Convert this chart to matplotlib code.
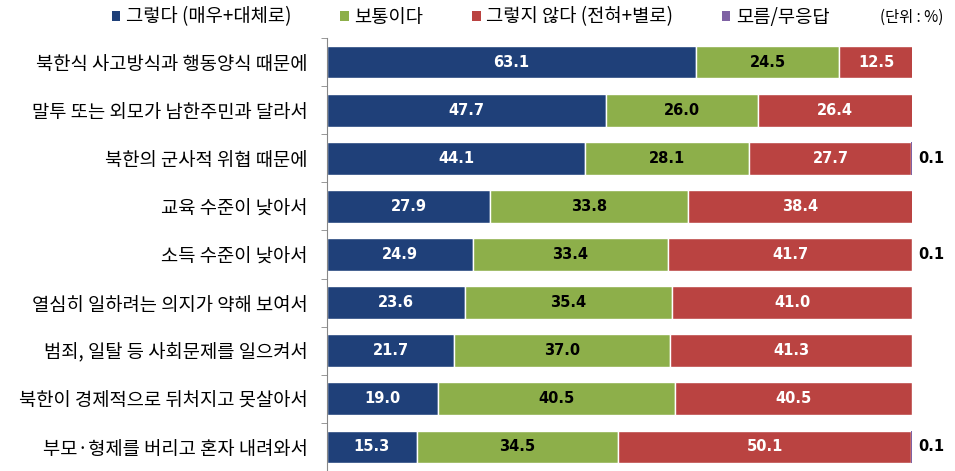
import matplotlib.pyplot as plt
from matplotlib.patches import Patch
import numpy as np

plt.rcParams['font.family'] = ['Noto Sans CJK KR', 'DejaVu Sans']

categories = ['북한식 사고방식과 행동양식 때문에', '말투 또는 외모가 남한주민과 달라서',
              '북한의 군사적 위협 때문에', '교육 수준이 낮아서', '소득 수준이 낮아서',
              '열심히 일하려는 의지가 약해 보여서', '범죄, 일탈 등 사회문제를 일으켜서',
              '북한이 경제적으로 뒤처지고 못살아서', '부모·형제를 버리고 혼자 내려와서']
agree = [63.1, 47.7, 44.1, 27.9, 24.9, 23.6, 21.7, 19.0, 15.3]
neutral = [24.5, 26.0, 28.1, 33.8, 33.4, 35.4, 37.0, 40.5, 34.5]
disagree = [12.5, 26.4, 27.7, 38.4, 41.7, 41.0, 41.3, 40.5, 50.1]
unknown = [0.0, 0.0, 0.1, 0.0, 0.1, 0.0, 0.0, 0.0, 0.1]

series_names = ['그렇다 (매우+대체로)', '보통이다', '그렇지 않다 (전혀+별로)', '모름/무응답']
colors = ['#1F4079', '#8DAF4A', '#BA4341', '#7F62A4']
text_colors = ['white', 'black', 'white']

fig = plt.figure(figsize=(9.55, 4.71), dpi=100)
ax = fig.add_axes([327 / 955, 0.0, 585 / 955, 1 - 38 / 471])

y = np.arange(len(categories))
left = np.zeros(len(categories))
for vals, col, tcol in zip([agree, neutral, disagree], colors[:3], text_colors):
    vals = np.array(vals)
    bars = ax.barh(y, vals, left=left, height=0.68, color=col, edgecolor='white', linewidth=1)
    for b, v in zip(bars, vals):
        ax.text(b.get_x() + b.get_width() / 2, b.get_y() + b.get_height() / 2, f'{v:.1f}',
                ha='center', va='center', color=tcol, fontsize=10.5, fontweight='bold',
                family='DejaVu Sans')
    left += vals
vals = np.array(unknown)
ax.barh(y, vals, left=left, height=0.68, color=colors[3])
for yi, v in zip(y, vals):
    if v > 0:
        ax.text(101, yi, f'{v:.1f}', ha='left', va='center', color='black',
                fontsize=10.5, fontweight='bold', family='DejaVu Sans')

ax.set_xlim(0, 100)
ax.set_ylim(len(categories) - 0.5, -0.5)
ax.set_yticks(y)
ax.set_yticklabels(categories, fontsize=13.5, fontweight='medium')
ax.set_yticks(np.arange(-0.5, len(categories)), minor=True)
ax.tick_params(axis='y', which='major', length=0, pad=14)
ax.tick_params(axis='y', which='minor', length=4, direction='out', color='#888888')
ax.set_xticks([])
for s in ['top', 'right', 'bottom']:
    ax.spines[s].set_visible(False)
ax.spines['left'].set_color('#888888')

handles = [Patch(facecolor=c) for c in colors]
fig.legend(handles, series_names, loc='center left', bbox_to_anchor=(112 / 955, 1 - 17 / 471),
           ncol=4, frameon=False, fontsize=13.5, handlelength=0.45, handleheight=0.45,
           handletextpad=0.3, columnspacing=2.6, borderpad=0, borderaxespad=0)
fig.text(880 / 955, 1 - 17 / 471, '(단위 : %)', fontsize=11, va='center', ha='left')

fig.savefig('out.png', dpi=100)
